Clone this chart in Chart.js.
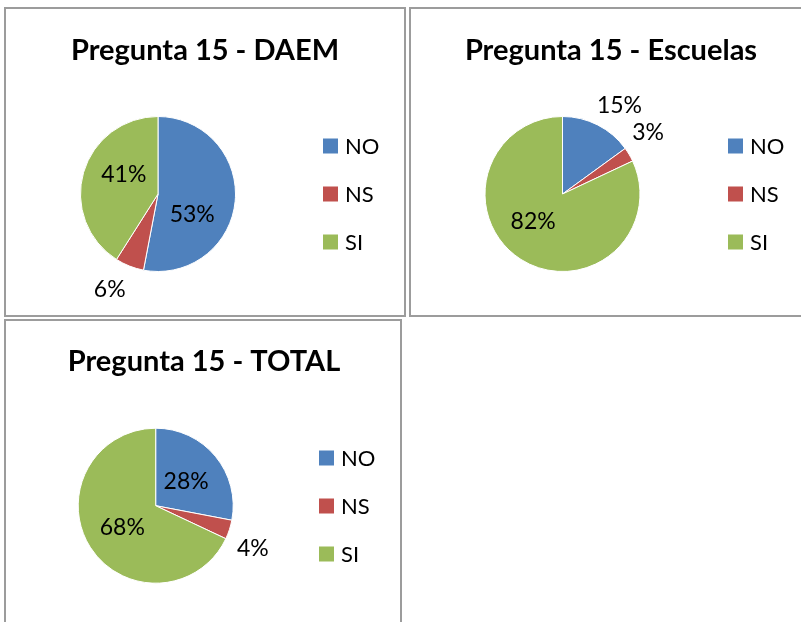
<!DOCTYPE html>
<html><head><meta charset="utf-8">
<script src="https://cdn.jsdelivr.net/npm/chart.js@4.4.0/dist/chart.umd.min.js"></script>
<style>
html,body{margin:0;padding:0;background:#fff;width:801px;height:622px;overflow:hidden;position:relative;}
.panel{position:absolute;box-sizing:border-box;border:2px solid #9c9c9c;background:#fff;overflow:hidden;}
.panel canvas{position:absolute;left:0;top:0;}
</style></head><body>
<div class="panel" style="left:4px;top:7px;width:402px;height:310px;"><canvas id="c1" width="398" height="306"></canvas></div>
<div class="panel" style="left:409px;top:7px;width:400px;height:310px;"><canvas id="c2" width="396" height="306"></canvas></div>
<div class="panel" style="left:4px;top:319px;width:398px;height:310px;"><canvas id="c3" width="394" height="306"></canvas></div>
<script>
// ---- data ----
const categories = ['NO', 'NS', 'SI'];
const daemValues = [53, 6, 41];
const escuelasValues = [15, 3, 82];
const totalValues = [28, 4, 68];
const titles = ['Pregunta 15 - DAEM', 'Pregunta 15 - Escuelas', 'Pregunta 15 - TOTAL'];

// ---- style / layout ----
const colors = ['#4F81BD', '#C0504D', '#9BBB59'];
const FONT = 'Lato, "Open Sans", sans-serif';
const layouts = [
  {canvas:'c1', ox:6, oy:9, w:398, h:306, cx:158, cy:194, r:77.5, titleX:205, titleY:59.5, legX:323, legY:146, legGap:48},
  {canvas:'c2', ox:411, oy:9, w:396, h:306, cx:562.5, cy:194, r:77.5, titleX:611, titleY:59.5, legX:728, legY:146, legGap:48},
  {canvas:'c3', ox:6, oy:321, w:394, h:306, cx:155.7, cy:505.7, r:77.5, titleX:204, titleY:371, legX:319, legY:458, legGap:48}
];
const valueSets = [daemValues, escuelasValues, totalValues];
const DEG = Math.PI / 180;

// label placement rule (best-fit style): big slices inside, small slices outside,
// with the direction pulled toward the diagonal like office charts do
function labelPoint(p, value) {
  const mid = (p.startAngle + p.endAngle) / 2;
  const ux = Math.cos(mid), uy = Math.sin(mid);
  let th = Math.atan2(Math.abs(uy), Math.abs(ux)) / DEG;
  let d;
  if (value >= 20) {
    th = Math.min(42, Math.max(30, th));
    d = p.outerRadius * 0.51;
  } else {
    const diff = 45 - th;
    th = th + Math.sign(diff) * Math.min(5.5, Math.abs(diff));
    d = p.outerRadius + 28.5;
  }
  return {
    x: p.x + Math.sign(ux || 1) * Math.cos(th * DEG) * d,
    y: p.y + Math.sign(uy || 1) * Math.sin(th * DEG) * d
  };
}

const decoPlugin = {
  id: 'deco',
  afterDatasetsDraw(chart, args, o) {
    const ctx = chart.ctx;
    ctx.save();
    // title
    ctx.fillStyle = '#000';
    ctx.textAlign = 'center';
    ctx.textBaseline = 'alphabetic';
    ctx.font = 'bold 29px ' + FONT;
    ctx.fillText(o.title, o.titleX - o.ox, o.titleY - o.oy);
    // data labels
    const meta = chart.getDatasetMeta(0);
    const vals = chart.data.datasets[0].data;
    ctx.font = '23px ' + FONT;
    meta.data.forEach((arc, i) => {
      const p = arc.getProps(['x','y','startAngle','endAngle','outerRadius'], true);
      const pt = labelPoint(p, vals[i]);
      ctx.fillText(vals[i] + '%', pt.x, pt.y + 23 * 0.358);
    });
    // legend
    ctx.textAlign = 'left';
    ctx.font = '22px ' + FONT;
    chart.data.labels.forEach((lab, i) => {
      const yc = o.legY - o.oy + i * o.legGap;
      const xs = o.legX - o.ox;
      ctx.fillStyle = colors[i];
      ctx.fillRect(xs, yc - 7.5, 15, 15);
      ctx.fillStyle = '#000';
      ctx.fillText(lab, xs + 22, yc + 22 * 0.358);
    });
    ctx.restore();
  }
};

layouts.forEach((L, k) => {
  const bw = 1;
  const lx = L.cx - L.ox, ly = L.cy - L.oy;
  const side = L.r + bw / 2;
  new Chart(document.getElementById(L.canvas), {
    type: 'pie',
    data: {
      labels: categories,
      datasets: [{
        data: valueSets[k],
        backgroundColor: colors,
        borderColor: '#ffffff',
        borderWidth: bw
      }]
    },
    options: {
      responsive: false,
      animation: false,
      layout: { padding: {
        left: lx - side, top: ly - side,
        right: L.w - (lx + side), bottom: L.h - (ly + side)
      }},
      plugins: {
        legend: { display: false },
        tooltip: { enabled: false },
        deco: Object.assign({ title: titles[k] }, L)
      }
    },
    plugins: [decoPlugin]
  });
});
</script>
</body></html>
